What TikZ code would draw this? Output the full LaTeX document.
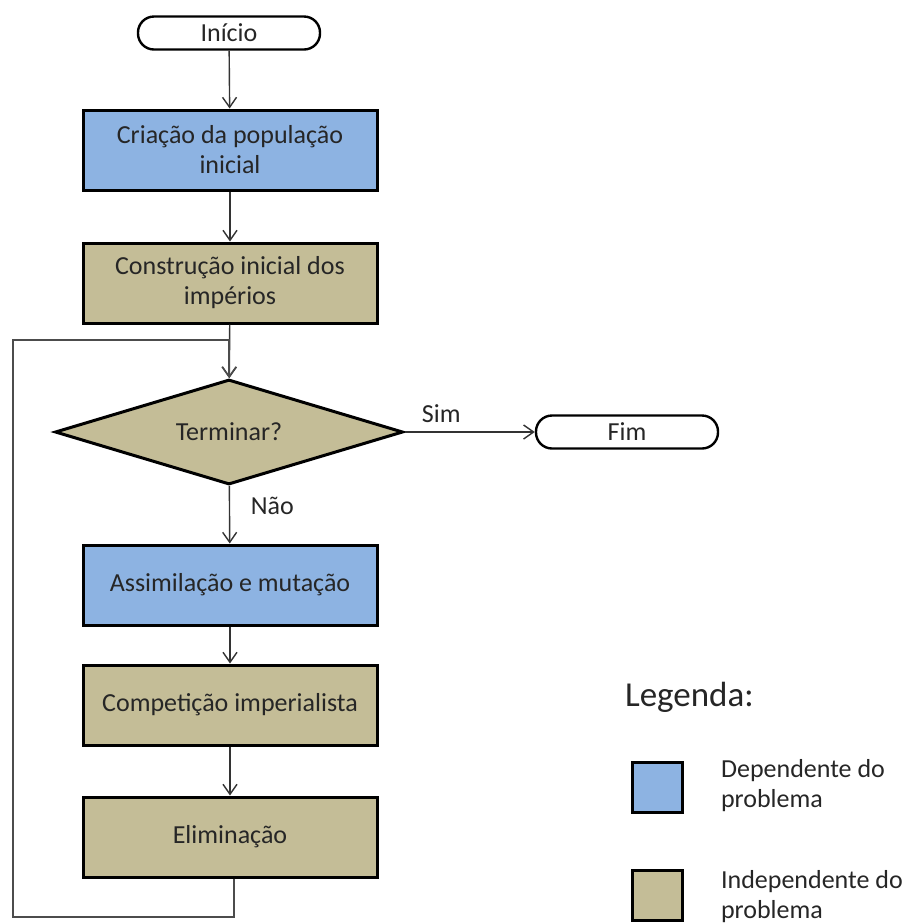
\documentclass[tikz,border=0pt]{standalone}
\usepackage{fontspec}
\setmainfont{Carlito}
\usetikzlibrary{shapes.geometric,arrows.meta}
\definecolor{dependente}{HTML}{8DB3E2}
\definecolor{independente}{HTML}{C4BD97}

\begin{document}
\begin{tikzpicture}[x=0.5pt, y=-0.5pt,
      every node/.style = {font=\fontsize{13}{15}\selectfont, text=black!85},
      terminal/.style = {draw, line width=1.2pt, rectangle, rounded corners=8pt,
            minimum width=91pt, minimum height=16.5pt, inner sep=0pt},
      processo/.style = {draw, line width=1.5pt, rectangle, align=center,
            minimum width=147pt, minimum height=40pt},
      decisao/.style = {draw, line width=1.5pt, diamond, aspect=3.3, inner sep=0pt,
            minimum width=174pt, minimum height=52.5pt, fill=independente},
      seta/.style = {-{Straight Barb[length=5pt,width=7pt]}, line width=0.7pt, black!80},
      legbox/.style = {draw, line width=1.5pt, minimum size=25pt, inner sep=0pt}
      ]
      \useasboundingbox (0,0) rectangle (908,923);

      % fluxo principal
      \node[terminal] (inicio) at (229,33) {Início};
      \node[processo, fill=dependente] (criacao) at (230,150) {Criação da população\\inicial};
      \node[processo, fill=independente] (construcao) at (230,283) {Construção inicial dos\\impérios};
      \node[decisao] (terminar) at (229,432) {Terminar?};
      \node[terminal] (fim) at (627,432) {Fim};
      \node[processo, fill=dependente] (assimilacao) at (230,585) {Assimilação e mutação};
      \node[processo, fill=independente] (competicao) at (230,705) {Competição imperialista};
      \node[processo, fill=independente] (eliminacao) at (230,837) {Eliminação};

      \draw[seta] (inicio) -- (criacao);
      \draw[seta] (criacao) -- (construcao);
      \draw[seta] (construcao) -- (terminar);
      \draw[seta] (terminar) -- node[pos=0, anchor=south west, xshift=5pt, yshift=1pt] {Sim} (fim);
      \draw[seta] (terminar) -- node[pos=0.35, right, xshift=7pt] {Não} (assimilacao);
      \draw[seta] (assimilacao) -- (competicao);
      \draw[seta] (competicao) -- (eliminacao);

      % retorno
      \coordinate (canto1) at (13,917);
      \coordinate (canto2) at (13,340);
      \draw[seta, black!70] ([xshift=2pt]eliminacao.south) |- (canto1) -- (canto2) -| (terminar.north);

      % legenda
      \node[anchor=west, font=\fontsize{17.5}{20}\selectfont] (legenda) at (618,697) {Legenda:};
      \node[legbox, fill=dependente] (legdep) at (657,787) {};
      \node[anchor=west, align=left] (txtdep) at (714,786) {Dependente do\\problema};
      \node[legbox, fill=independente] (legind) at (657,895) {};
      \node[anchor=west, align=left] (txtind) at (714,897) {Independente do\\problema};
\end{tikzpicture}
\end{document}
